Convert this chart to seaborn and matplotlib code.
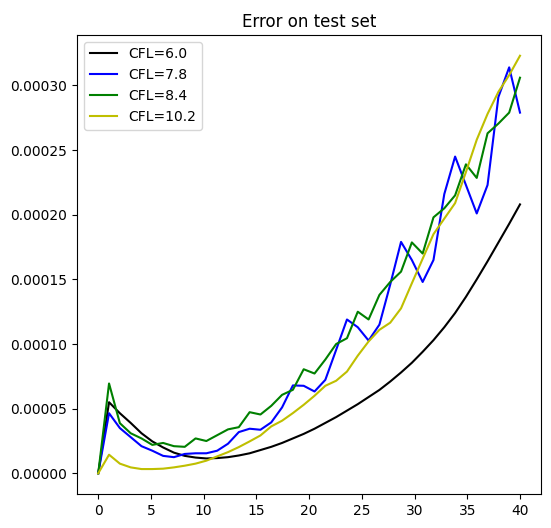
import matplotlib
matplotlib.use('Agg')
import matplotlib.pyplot as plt
import pandas as pd
import seaborn as sns

# 40 evaluation points spread over [0, 40]
x = [0.0, 1.026, 2.051, 3.077, 4.103, 5.128, 6.154, 7.179, 8.205, 9.231,
     10.256, 11.282, 12.308, 13.333, 14.359, 15.385, 16.41, 17.436, 18.462, 19.487,
     20.513, 21.538, 22.564, 23.59, 24.615, 25.641, 26.667, 27.692, 28.718, 29.744,
     30.769, 31.795, 32.821, 33.846, 34.872, 35.897, 36.923, 37.949, 38.974, 40.0]

# errors, in units of 1e-5
err_60 = [0, 5.5, 4.65, 3.9, 3.1, 2.47, 2.0, 1.6, 1.35, 1.22,
          1.15, 1.18, 1.25, 1.38, 1.55, 1.8, 2.05, 2.35, 2.7, 3.05,
          3.45, 3.9, 4.35, 4.85, 5.35, 5.9, 6.45, 7.1, 7.8, 8.55,
          9.4, 10.3, 11.3, 12.4, 13.65, 15.0, 16.4, 17.85, 19.3, 20.8]
err_78 = [0, 4.65, 3.5, 2.8, 2.1, 1.75, 1.35, 1.25, 1.5, 1.55,
          1.55, 1.75, 2.29, 3.19, 3.45, 3.37, 3.94, 5.1, 6.8, 6.77,
          6.33, 7.23, 9.55, 11.9, 11.3, 10.27, 11.5, 14.6, 17.9, 16.5,
          14.8, 16.5, 21.6, 24.5, 22.3, 20.1, 22.3, 29.1, 31.4, 27.9]
err_84 = [0, 6.95, 3.88, 3.1, 2.7, 2.2, 2.35, 2.1, 2.05, 2.7,
          2.5, 2.95, 3.4, 3.57, 4.73, 4.55, 5.22, 6.07, 6.46, 8.05,
          7.72, 8.8, 10.0, 10.45, 12.5, 11.9, 13.8, 14.8, 15.6, 17.86,
          17.0, 19.8, 20.5, 21.5, 23.9, 22.85, 26.3, 27.05, 27.9, 30.6]
err_102 = [0, 1.44, 0.75, 0.46, 0.33, 0.33, 0.36, 0.46, 0.59, 0.75,
           0.98, 1.31, 1.64, 2.03, 2.47, 2.93, 3.63, 4.07, 4.66, 5.3,
           6.0, 6.77, 7.16, 7.87, 9.1, 10.2, 11.1, 11.65, 12.76, 14.7,
           16.6, 18.5, 19.7, 20.9, 23.3, 25.8, 27.8, 29.5, 30.8, 32.3]

labels = ['CFL=6.0', 'CFL=7.8', 'CFL=8.4', 'CFL=10.2']
colors = ['k', 'b', 'g', 'y']


def main():
    fig, ax = plt.subplots(figsize=(5.51, 5.28), dpi=100)
    fig.subplots_adjust(left=0.14, right=0.982, top=0.934, bottom=0.064)

    for label, color, err in zip(labels, colors, [err_60, err_78, err_84, err_102]):
        df = pd.DataFrame({'x': x, 'err': [e * 1e-5 for e in err]})
        sns.lineplot(df, x='x', y='err', color=color, label=label, sort=False, ax=ax)

    ax.set_xlabel('')
    ax.set_ylabel('')
    ax.set_xticks([0, 5, 10, 15, 20, 25, 30, 35, 40])
    ax.set_title('Error on test set')
    ax.legend(loc='upper left')

    fig.savefig('out.png', dpi=100)


if __name__ == '__main__':
    main()
